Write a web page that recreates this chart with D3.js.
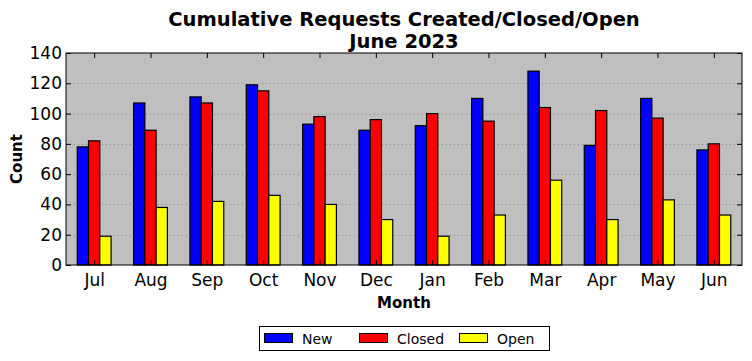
<!DOCTYPE html>
<html><head><meta charset="utf-8">
<script src="https://cdn.jsdelivr.net/npm/d3@7"></script>
<style>body{margin:0;background:#fff}svg{display:block;font-family:"DejaVu Sans",sans-serif}</style>
</head><body><svg id="c" width="752" height="361"></svg>
<script>
const months = ["Jul","Aug","Sep","Oct","Nov","Dec","Jan","Feb","Mar","Apr","May","Jun"];
const newVals = [78,107,111,119,93,89,92,110,128,79,110,76];
const closedVals = [82,89,107,115,98,96,100,95,104,102,97,80];
const openVals = [19,38,42,46,40,30,19,33,56,30,43,33];
const seriesNames = ["New","Closed","Open"];
const seriesColors = ["#0000ff","#ff0000","#ffff00"];
const yTicks = [0,20,40,60,80,100,120,140];

const svg = d3.select("#c");
const L=66,R=742,T=53,B=265;
const x = d3.scaleLinear().domain([-0.5,11.5]).range([L,R]);
const y = d3.scaleLinear().domain([0,140]).range([B,T]);

svg.append("rect").attr("x",L).attr("y",T).attr("width",R-L).attr("height",B-T).attr("fill","#bfbfbf");
svg.append("g").selectAll("line").data(yTicks.slice(1,-1)).join("line")
  .attr("x1",L).attr("x2",R).attr("y1",d=>Math.round(y(d))+0.5).attr("y2",d=>Math.round(y(d))+0.5)
  .attr("stroke","#8a8a8a").attr("stroke-width",1).attr("stroke-dasharray","1,3");

const series=[newVals,closedVals,openVals];
const offs=[-0.2,0,0.2];
series.forEach((vals,si)=>{
  svg.append("g").selectAll("rect").data(vals).join("rect")
    .attr("x",(d,i)=>x(i+offs[si]-0.1))
    .attr("width",x(0.2)-x(0))
    .attr("y",d=>y(d)).attr("height",d=>y(0)-y(d))
    .attr("fill",seriesColors[si]).attr("stroke","#000").attr("stroke-width",1.2);
});

const ax=svg.append("g").attr("transform",`translate(0,${B})`)
  .call(d3.axisBottom(x).tickValues(d3.range(12)).tickFormat(i=>months[i]).tickSize(-5).tickPadding(9));
const at=svg.append("g").attr("transform",`translate(0,${T})`)
  .call(d3.axisTop(x).tickValues(d3.range(12)).tickFormat("").tickSize(-5));
const al=svg.append("g").attr("transform",`translate(${L},0)`)
  .call(d3.axisLeft(y).tickValues(yTicks).tickSize(-5).tickPadding(4));
const ar=svg.append("g").attr("transform",`translate(${R},0)`)
  .call(d3.axisRight(y).tickValues(yTicks).tickFormat("").tickSize(-5));
[ax,at,al,ar].forEach(g=>{g.select(".domain").remove();g.selectAll("text").attr("font-size",17).attr("fill","#000").attr("font-family","DejaVu Sans");g.selectAll("line").attr("stroke","#000");});
svg.append("rect").attr("x",L).attr("y",T).attr("width",R-L).attr("height",B-T).attr("fill","none").attr("stroke","#000").attr("stroke-width",1);

svg.append("text").attr("x",404).attr("y",26).attr("text-anchor","middle").attr("font-size",19.5).attr("font-weight","bold").text("Cumulative Requests Created/Closed/Open");
svg.append("text").attr("x",404).attr("y",48).attr("text-anchor","middle").attr("font-size",19.5).attr("font-weight","bold").text("June 2023");
svg.append("text").attr("x",404).attr("y",308).attr("text-anchor","middle").attr("font-size",15).attr("font-weight","bold").text("Month");
svg.append("text").attr("transform","translate(22,159) rotate(-90)").attr("text-anchor","middle").attr("font-size",15).attr("font-weight","bold").text("Count");

const lg=svg.append("g");
lg.append("rect").attr("x",259.5).attr("y",326.5).attr("width",290).attr("height",24).attr("fill","#fff").attr("stroke","#000");
const lx=[264,359,459];
seriesNames.forEach((n,i)=>{
  lg.append("rect").attr("x",lx[i]+0.5).attr("y",333.5).attr("width",28).attr("height",9).attr("fill",seriesColors[i]).attr("stroke","#000");
  lg.append("text").attr("x",lx[i]+38).attr("y",343.5).attr("font-size",14).text(n);
});
</script></body></html>
